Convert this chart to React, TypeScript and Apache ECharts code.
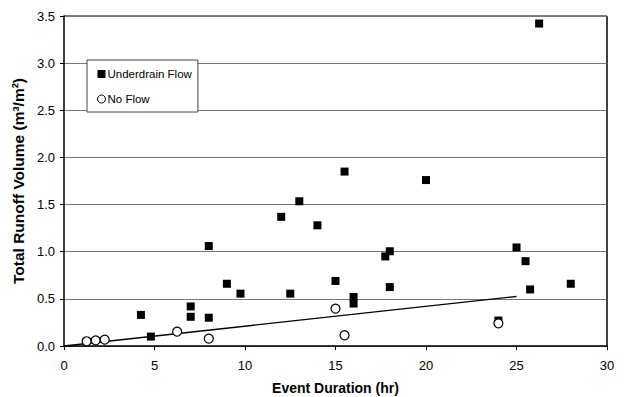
import React, { useEffect, useRef } from "react";
import * as echarts from "echarts";

const underdrainX = [4.25, 4.8, 7.0, 7.0, 8.0, 8.0, 9.0, 9.75, 12.0, 12.5, 13.0, 14.0, 15.0, 15.5, 16.0, 16.0, 17.75, 18.0, 18.0, 20.0, 24.0, 25.0, 25.5, 25.75, 26.25, 28.0];
const underdrainY = [0.33, 0.1, 0.42, 0.31, 0.3, 1.06, 0.66, 0.555, 1.37, 0.555, 1.535, 1.28, 0.69, 1.85, 0.52, 0.45, 0.95, 1.005, 0.625, 1.76, 0.27, 1.045, 0.9, 0.6, 3.42, 0.66];
const noFlowX = [1.25, 1.75, 2.25, 6.25, 8.0, 15.0, 15.5, 24.0];
const noFlowY = [0.05, 0.06, 0.068, 0.153, 0.078, 0.397, 0.114, 0.24];
const trendX = [0, 25];
const trendY = [0, 0.525];
const xTicks = { min: 0, max: 30, interval: 5 };
const yTicks = { min: 0, max: 3.5, interval: 0.5 };

const zip = (xs: number[], ys: number[]) => xs.map((x, i) => [x, ys[i]]);

export default function App() {
  const ref = useRef<HTMLDivElement>(null);
  useEffect(() => {
    if (!ref.current) return;
    const chart = echarts.init(ref.current, null, { renderer: "svg" });
    const font = "Liberation Sans, Arial, sans-serif";
    chart.setOption({
      animation: false,
      backgroundColor: "#fff",
      textStyle: { fontFamily: font },
      grid: { left: 64, top: 16, right: 17, bottom: 51, containLabel: false, outerBoundsMode: "none" },
      legend: {
        orient: "vertical",
        left: 87,
        top: 60,
        padding: [7, 6, 6, 10],
        itemGap: 11,
        itemWidth: 8,
        itemHeight: 8,
        borderColor: "#444",
        borderWidth: 1,
        backgroundColor: "#fff",
        textStyle: { fontFamily: font, fontSize: 11.5, color: "#000", padding: [0, 0, 0, -3], lineHeight: 14 },
        data: [
          { name: "Underdrain Flow", icon: "rect", itemStyle: { color: "#000", opacity: 1 } },
          { name: "No Flow", icon: "circle", itemStyle: { color: "#fff", borderColor: "#000", borderWidth: 1, opacity: 1 } },
        ],
      },
      xAxis: {
        type: "value",
        min: xTicks.min,
        max: xTicks.max,
        interval: xTicks.interval,
        name: "Event Duration (hr)",
        nameLocation: "middle",
        nameGap: 35,
        nameTextStyle: { fontFamily: font, fontSize: 14, fontWeight: "bold", color: "#000" },
        axisLine: { show: true, lineStyle: { color: "#000", width: 1.5 } },
        axisTick: { show: true, inside: false, length: 4, lineStyle: { color: "#000" } },
        axisLabel: { fontFamily: font, fontSize: 13, color: "#000", margin: 13 },
        splitLine: { show: false },
      },
      yAxis: {
        type: "value",
        min: yTicks.min,
        max: yTicks.max,
        interval: yTicks.interval,
        name: "Total Runoff Volume (m\u00b3/m\u00b2)",
        nameLocation: "middle",
        nameGap: 32,
        nameTextStyle: { fontFamily: font, fontSize: 15.5, fontWeight: "bold", color: "#000" },
        axisLine: { show: true, lineStyle: { color: "#000", width: 1.5 } },
        axisTick: { show: true, inside: false, length: 4, lineStyle: { color: "#000" } },
        axisLabel: {
          fontFamily: font,
          fontSize: 13,
          color: "#000",
          margin: 9,
          formatter: (v: number) => v.toFixed(1),
        },
        splitLine: { show: true, lineStyle: { color: "#777", width: 1.2 } },
      },
      series: [
        {
          type: "line",
          name: "trend",
          data: zip(trendX, trendY),
          showSymbol: false,
          symbol: "none",
          lineStyle: { color: "#000", width: 1.3 },
          z: 1,
          silent: true,
        },
        {
          type: "scatter",
          name: "Underdrain Flow",
          data: zip(underdrainX, underdrainY),
          symbol: "rect",
          symbolSize: 8,
          itemStyle: { color: "#000", opacity: 1 },
          z: 3,
        },
        {
          type: "scatter",
          name: "No Flow",
          data: zip(noFlowX, noFlowY),
          symbol: "circle",
          symbolSize: 9,
          itemStyle: { color: "#fff", borderColor: "#000", borderWidth: 1.2, opacity: 1 },
          z: 4,
        },
      ],
      graphic: [
        {
          type: "line",
          shape: { x1: 607, y1: 16, x2: 607, y2: 346 },
          style: { stroke: "#000", lineWidth: 1.5 },
        },
        {
          type: "line",
          shape: { x1: 64, y1: 16, x2: 607, y2: 16 },
          style: { stroke: "#000", lineWidth: 1.2 },
        },
      ],
    });
    return () => chart.dispose();
  }, []);
  return <div ref={ref} style={{ width: 624, height: 397, position: "absolute", left: 0, top: 0 }} />;
}
